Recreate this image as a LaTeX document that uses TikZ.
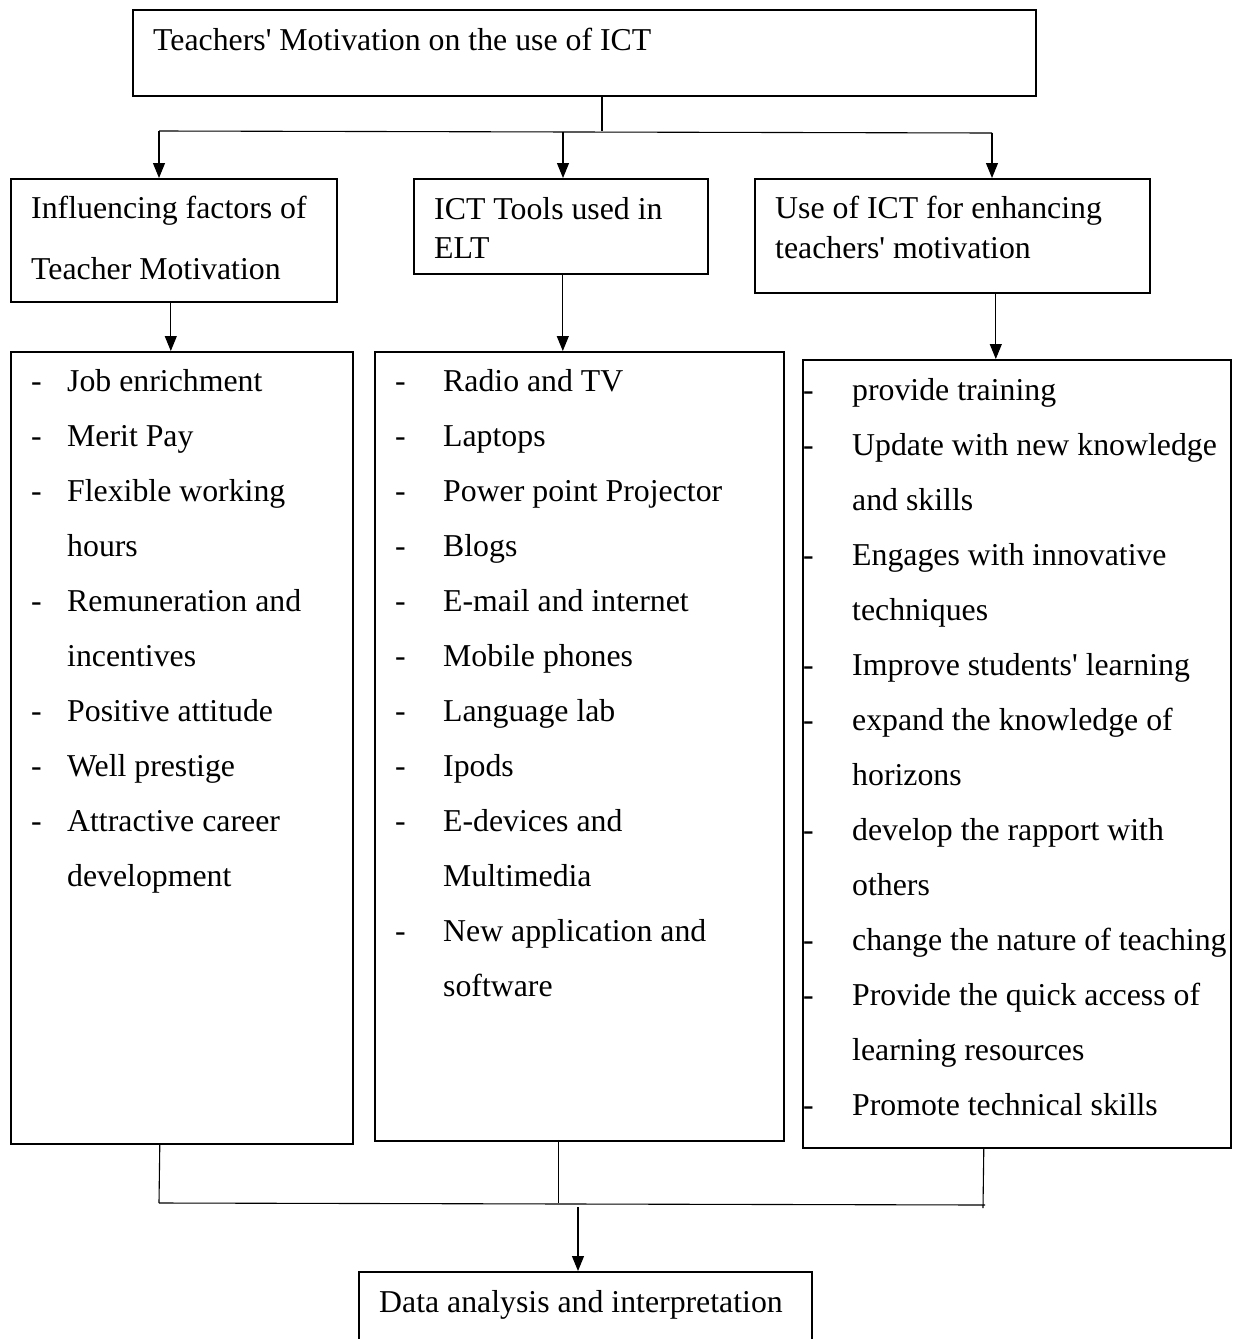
\documentclass[tikz,border=0pt]{standalone}
\usepackage{fontspec}
\setmainfont{Liberation Serif}
\usetikzlibrary{arrows.meta}

% one or more lines of text, first baseline at the node's base
\newcommand{\rows}[2]{\fontsize{31.8}{#1}\selectfont
    \begin{tabular}[t]{@{}l@{}}#2\end{tabular}}
% dashed list, #1 = room for the dash
\newcommand{\items}[2]{\fontsize{31.8}{55}\selectfont
    \begin{tabular}[t]{@{}p{#1pt}@{}l@{}}#2\end{tabular}}

\begin{document}
\begin{tikzpicture}[x=1pt, y=-1pt
    , box/.style={draw, line width=1.6pt, inner sep=0pt, anchor=north west}
    , txt/.style={anchor=base west, inner sep=0pt}
    , link/.style={line width=1.1pt}
    , arrow/.style={link, -{Triangle[length=15pt, width=12pt]}}
    ]

    \clip (0,0) rectangle (1245,1339);
    \fill[white] (0,0) rectangle (1245,1339);

    % Title
    \node[box, minimum width=903pt, minimum height=86pt] (title) at (132,9) {};
    \node[txt] (title-txt) at (153,50)
        {\rows{55}{Teachers\textquotesingle{} Motivation on the use of ICT}};

    %% The three headings
    \node[box, minimum width=326pt, minimum height=123pt] (factors) at (10,178) {};
    \node[txt] (factors-txt) at (31,218)
        {\rows{61}{Influencing factors of\\Teacher Motivation}};

    \node[box, minimum width=294pt, minimum height=95pt] (tools) at (413,178) {};
    \node[txt] (tools-txt) at (434,219)
        {\rows{39}{ICT Tools used in\\ELT}};

    \node[box, minimum width=395pt, minimum height=114pt] (uses) at (754,178) {};
    \node[txt] (uses-txt) at (775,218)
        {\rows{40}{Use of ICT for enhancing\\teachers\textquotesingle{} motivation}};

    %% The three lists
    \node[box, minimum width=342pt, minimum height=792pt] (factors-list) at (10,351) {};
    \node[txt] (factors-items) at (31,391)
        {\items{36}{-&Job enrichment\\-&Merit Pay\\-&Flexible working\\&hours\\
            -&Remuneration and\\&incentives\\-&Positive attitude\\-&Well prestige\\
            -&Attractive career\\&development}};

    \node[box, minimum width=409pt, minimum height=789pt] (tools-list) at (374,351) {};
    \node[txt] (tools-items) at (395,391)
        {\items{48}{-&Radio and TV\\-&Laptops\\-&Power point Projector\\-&Blogs\\
            -&E-mail and internet\\-&Mobile phones\\-&Language lab\\-&Ipods\\
            -&E-devices and\\&Multimedia\\-&New application and\\&software}};

    \node[box, minimum width=428pt, minimum height=788pt] (uses-list) at (802,359) {};
    \node[txt] (uses-items) at (803,400)
        {\items{49}{-&provide training\\-&Update with new knowledge\\&and skills\\
            -&Engages with innovative\\&techniques\\
            -&Improve students\textquotesingle{} learning\\
            -&expand the knowledge of\\&horizons\\-&develop the rapport with\\&others\\
            -&change the nature of teaching\\-&Provide the quick access of\\
            &learning resources\\-&Promote technical skills}};

    % Result
    \node[box, minimum width=453pt, minimum height=90pt] (data) at (358,1271) {};
    \node[txt] (data-txt) at (379,1312)
        {\rows{55}{Data analysis and interpretation}};

    %% Top fork
    \coordinate (split) at (602,131);
    \coordinate (hl) at (159,131);
    \coordinate (hm) at (563,132);
    \coordinate (hr) at (992,133);
    \draw[link] (split |- title.south) -- (split);
    \draw[link] (hl) -- (hr);
    \draw[arrow] (hl) -- (hl |- factors.north);
    \draw[arrow] (hm) -- (hm |- tools.north);
    \draw[arrow] (hr) -- (hr |- uses.north);

    % Headings to lists
    \draw[arrow] ([xshift=-3pt]factors.south)
        -- ([xshift=-3pt]factors.south |- factors-list.north);
    \draw[arrow] ([xshift=2pt]tools.south)
        -- ([xshift=2pt]tools.south |- tools-list.north);
    \draw[arrow] ([xshift=43.5pt]uses.south)
        -- ([xshift=43.5pt]uses.south |- uses-list.north);

    %% Bottom join
    \coordinate (jl) at (159,1203);
    \coordinate (jm) at (578,1207);
    \coordinate (je) at (985,1205);
    \coordinate (jr) at (983,1208);
    \draw[link] ([xshift=-22pt]factors-list.south) -- (jl);
    \draw[link] ([xshift=-20.5pt]tools-list.south)
        -- ([xshift=-20.5pt]tools-list.south |- jl);
    \draw[link] ([xshift=-33pt]uses-list.south) -- (jr);
    \draw[link] (jl) -- (je);
    \draw[arrow] (jm) -- (jm |- data.north);

\end{tikzpicture}
\end{document}
